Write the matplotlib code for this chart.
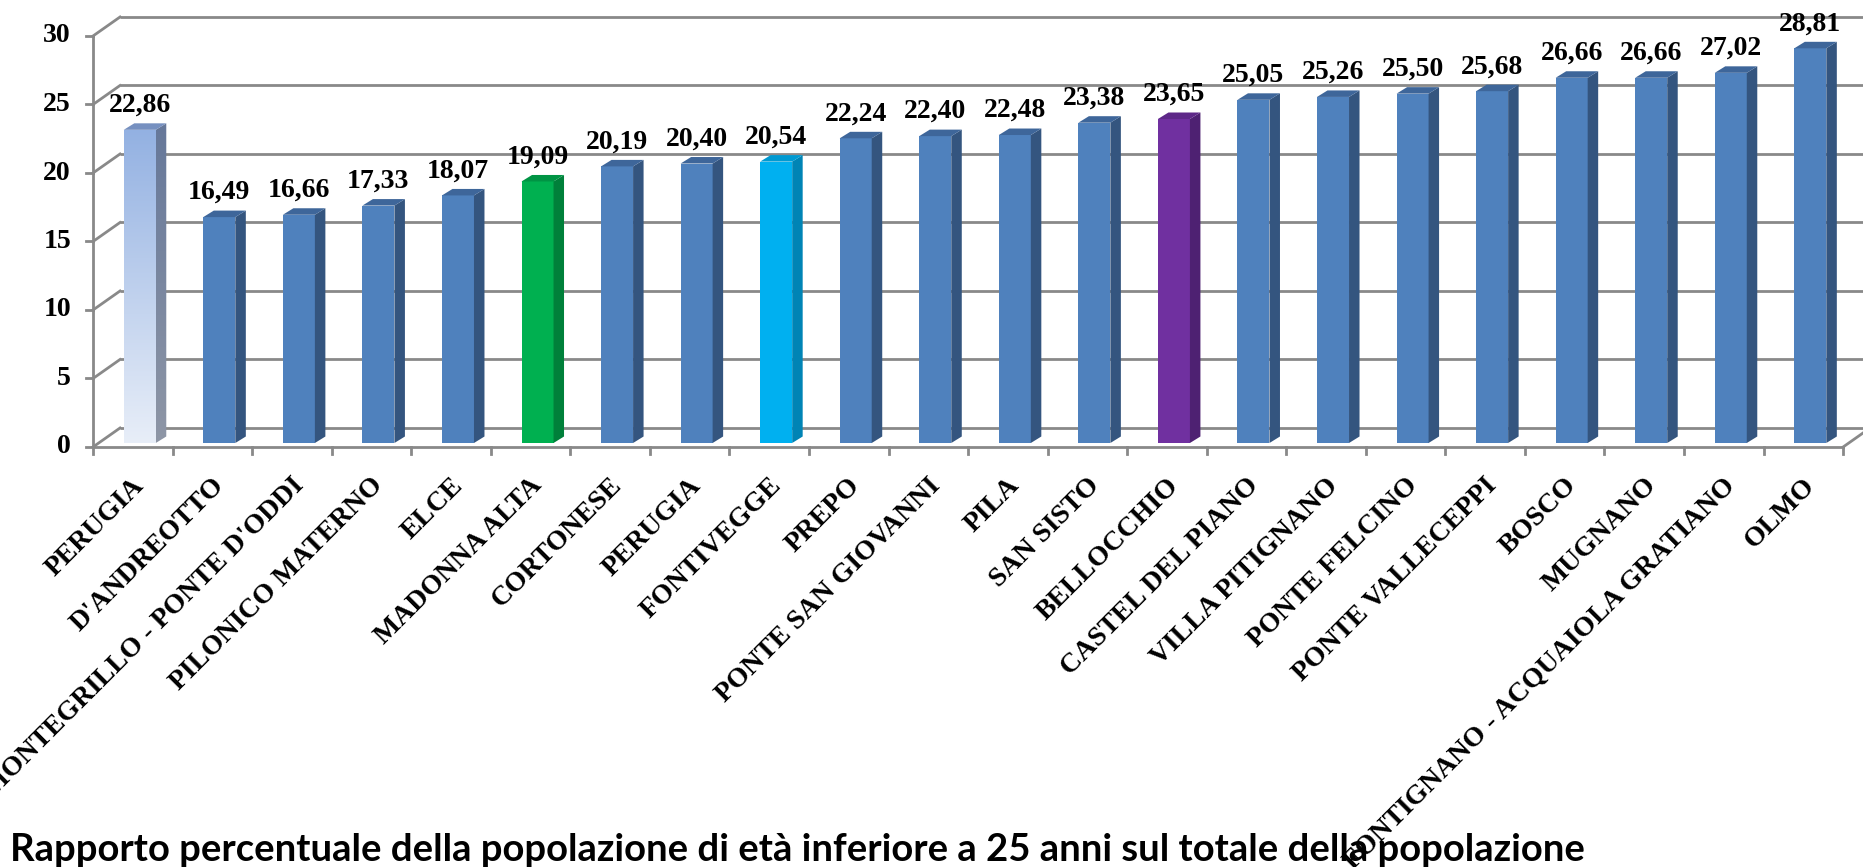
import numpy as np
import matplotlib
matplotlib.use('Agg')
import matplotlib.pyplot as plt
from matplotlib.patches import Polygon

# data
categories = ['PERUGIA', "D'ANDREOTTO", "MONTEGRILLO - PONTE D'ODDI", 'PILONICO MATERNO',
              'ELCE', 'MADONNA ALTA', 'CORTONESE', 'PERUGIA', 'FONTIVEGGE', 'PREPO',
              'PONTE SAN GIOVANNI', 'PILA', 'SAN SISTO', 'BELLOCCHIO', 'CASTEL DEL PIANO',
              'VILLA PITIGNANO', 'PONTE FELCINO', 'PONTE VALLECEPPI', 'BOSCO', 'MUGNANO',
              'FONTIGNANO - ACQUAIOLA GRATIANO', 'OLMO']
values = [22.86, 16.49, 16.66, 17.33, 18.07, 19.09, 20.19, 20.40, 20.54, 22.24, 22.40,
          22.48, 23.38, 23.65, 25.05, 25.26, 25.50, 25.68, 26.66, 26.66, 27.02, 28.81]
y_ticks = [0, 5, 10, 15, 20, 25, 30]
title = ('Rapporto percentuale della popolazione di età inferiore a 25 anni '
         'sul totale della popolazione')

# colours: (front, side, top)
blue = ('#4F81BD', '#34557F', '#3E669A')
special = {
    5: ('#00B050', '#00803A', '#009444'),
    8: ('#00B0F0', '#0084B5', '#009AD2'),
    13: ('#7030A0', '#4E2172', '#5E2888'),
}
grid_col = '#898989'

W, H = 1863, 867
fig = plt.figure(figsize=(W / 100, H / 100), dpi=100)
ax = fig.add_axes([0, 0, 1, 1])
ax.axis('off')

# pixel geometry of the fake 3d frame
X0PX, Y0PX = 93, 447       # front-left corner of the plot
UX, UY = 79.55, 13.7       # pixels per category / per unit
xlim = (-0.5 - X0PX / UX, -0.5 + (W - X0PX) / UX)
ylim = (-(H - Y0PX) / UY, Y0PX / UY)

bx, by = 27 / UX, 19 / UY            # back wall offset
fx, fy = 7 / UX, 4 / UY              # bar front face offset
dx, dy = 10.5 / UX, 6.5 / UY         # bar depth
bw = 32 / UX                          # bar width
n = len(categories)
x = np.arange(n)
xl, xr = -0.5, n - 0.5

serif = 'Liberation Serif'

# back wall gridlines and left diagonals
for t in y_ticks:
    ax.plot([xl + bx, xlim[1] + 1], [t + by, t + by], color=grid_col, lw=2, zorder=1,
            solid_capstyle='butt')
    ax.plot([xl, xl + bx], [t, t + by], color=grid_col, lw=2, zorder=1)
    ax.plot([xl - 7 / UX, xl], [t, t], color=grid_col, lw=2, zorder=1)
    ax.text(xl - 22 / UX, t, str(t), ha='right', va='center', fontsize=20,
            fontweight='bold', family=serif)

# front axis lines
ax.plot([xl, xl], [0, 30], color=grid_col, lw=2, zorder=1)
ax.plot([xl, xr], [0, 0], color=grid_col, lw=2, zorder=1)
ax.plot([xr, xr + bx], [0, by], color=grid_col, lw=2, zorder=1)
for k in range(n + 1):
    ax.plot([xl + k, xl + k], [0, -7 / UY], color=grid_col, lw=2, zorder=1)

# bars
for i, v in enumerate(values):
    left = x[i] + fx - bw / 2
    right = left + bw
    b = fy
    front, side, top = special.get(i, blue)
    if i == 0:
        bar = ax.bar(left, v, width=bw, bottom=b, align='edge', color='none', zorder=3)[0]
        grad = np.linspace(0, 1, 256).reshape(-1, 1)
        cmap = matplotlib.colors.LinearSegmentedColormap.from_list('g', ['#E8EEF8', '#93B1E2'])
        im = ax.imshow(grad, extent=(left, right, b, b + v), origin='lower', cmap=cmap,
                       aspect='auto', zorder=3)
        im.set_clip_path(bar)
        side_poly = Polygon([(right, b), (right + dx, b + dy), (right + dx, b + v + dy),
                             (right, b + v)], closed=True, facecolor='none', zorder=3)
        ax.add_patch(side_poly)
        cmap2 = matplotlib.colors.LinearSegmentedColormap.from_list('s', ['#8E96A6', '#66789A'])
        im2 = ax.imshow(grad, extent=(right, right + dx, b, b + v + dy), origin='lower',
                        cmap=cmap2, aspect='auto', zorder=3)
        im2.set_clip_path(side_poly)
        top = '#7690C0'
    else:
        ax.bar(left, v, width=bw, bottom=b, align='edge', color=front, zorder=3)
        ax.add_patch(Polygon([(right, b), (right + dx, b + dy), (right + dx, b + v + dy),
                              (right, b + v)], closed=True, facecolor=side, zorder=3))
    ax.add_patch(Polygon([(left, b + v), (left + dx, b + v + dy), (right + dx, b + v + dy),
                          (right, b + v)], closed=True, facecolor=top, zorder=3))
    ax.text(x[i] + fx, b + v + 18 / UY, f'{v:.2f}'.replace('.', ','), ha='center',
            va='baseline', fontsize=20, fontweight='bold', family=serif, zorder=4)

# rotated category labels
for i, c in enumerate(categories):
    ax.text(x[i] + 8 / UX, -(482 - Y0PX) / UY, c, rotation=45, rotation_mode='anchor',
            ha='right', va='center', fontsize=20, fontweight='bold', family=serif, zorder=5)

ax.set_xlim(*xlim)
ax.set_ylim(*ylim)

fig.text(10 / W, 1 - 850 / H, title, ha='left', va='center', fontsize=27.5,
         fontweight='bold', family='Lato')

fig.savefig('out.png', dpi=100)
